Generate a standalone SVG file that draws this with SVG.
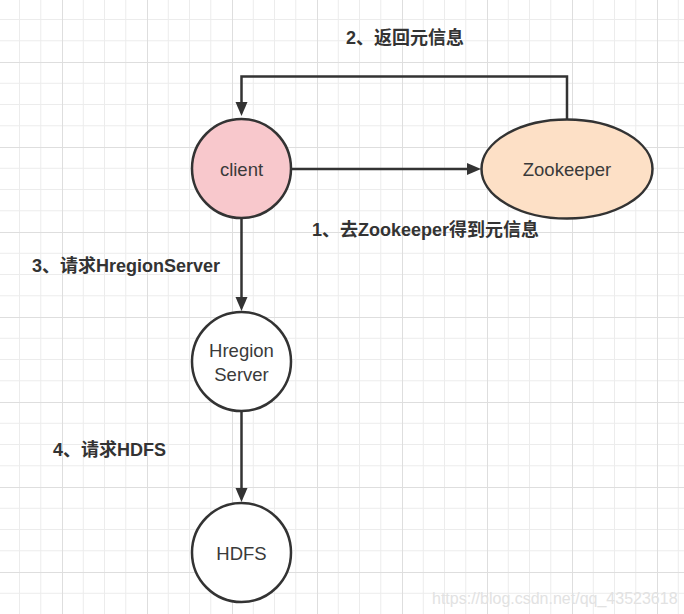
<svg xmlns="http://www.w3.org/2000/svg" width="684" height="614" viewBox="0 0 684 614">
  <defs>
    <pattern id="grid" patternUnits="userSpaceOnUse" x="-23" y="-23" width="85" height="85">
      <path d="M21.25,0V85M42.5,0V85M63.75,0V85M0,21.25H85M0,42.5H85M0,63.75H85" stroke="#ececec" stroke-width="1" fill="none"/>
      <path d="M0.5,0V85M0,0.5H85" stroke="#dedede" stroke-width="1" fill="none"/>
    </pattern>
    <marker id="arrow" markerUnits="userSpaceOnUse" markerWidth="16" markerHeight="14" refX="4" refY="6" orient="auto" viewBox="0 0 16 14">
      <path d="M0,0 L14,6 L0,12 Z" fill="#333333"/>
    </marker>
  </defs>
  <style>
    .node { stroke: #333333; stroke-width: 2.5; }
    .ntext { font-family: "Liberation Sans", Arial, sans-serif; font-size: 18.5px; fill: #3a3a3a; text-anchor: middle; }
    .label { font-family: "Liberation Sans", "Noto Sans CJK SC", sans-serif; font-size: 18px; font-weight: bold; fill: #333333; }
    .edge { stroke: #333333; stroke-width: 2.5; fill: none; }
    .wm { font-family: "Liberation Sans", Arial, sans-serif; font-size: 16px; fill: #e2e2e2; }
  </style>
  <rect x="0" y="0" width="684" height="614" fill="#ffffff"/>
  <rect x="0" y="0" width="684" height="614" fill="url(#grid)"/>

  <g id="connectors">
    <path class="edge" d="M292,169 H471" marker-end="url(#arrow)"/>
    <path class="edge" d="M567,119 V76.5 H241.5 V106" marker-end="url(#arrow)"/>
    <path class="edge" d="M241.5,218 V301" marker-end="url(#arrow)"/>
    <path class="edge" d="M241.5,412 V492" marker-end="url(#arrow)"/>
  </g>

  <g id="client">
    <circle class="node" cx="241.5" cy="168.5" r="49.5" fill="#f8c8cc"/>
    <text class="ntext" x="241.5" y="176">client</text>
  </g>
  <g id="zookeeper">
    <ellipse class="node" cx="567" cy="169" rx="85.5" ry="49.5" fill="#fde0c6"/>
    <text class="ntext" x="567" y="176">Zookeeper</text>
  </g>
  <g id="hregion">
    <circle class="node" cx="241.5" cy="361.5" r="49.5" fill="#ffffff"/>
    <text class="ntext" x="241.5" y="357">Hregion</text>
    <text class="ntext" x="241.5" y="381">Server</text>
  </g>
  <g id="hdfs">
    <circle class="node" cx="241.5" cy="552.5" r="49.5" fill="#ffffff"/>
    <text class="ntext" x="241.5" y="560">HDFS</text>
  </g>

  <g id="labels">
    <text class="label" x="346" y="44">2、返回元信息</text>
    <text class="label" x="312" y="236">1、去Zookeeper得到元信息</text>
    <text class="label" x="32" y="272">3、请求HregionServer</text>
    <text class="label" x="53" y="456">4、请求HDFS</text>
  </g>
  <text class="wm" x="432" y="604">https://blog.csdn.net/qq_43523618</text>
</svg>
